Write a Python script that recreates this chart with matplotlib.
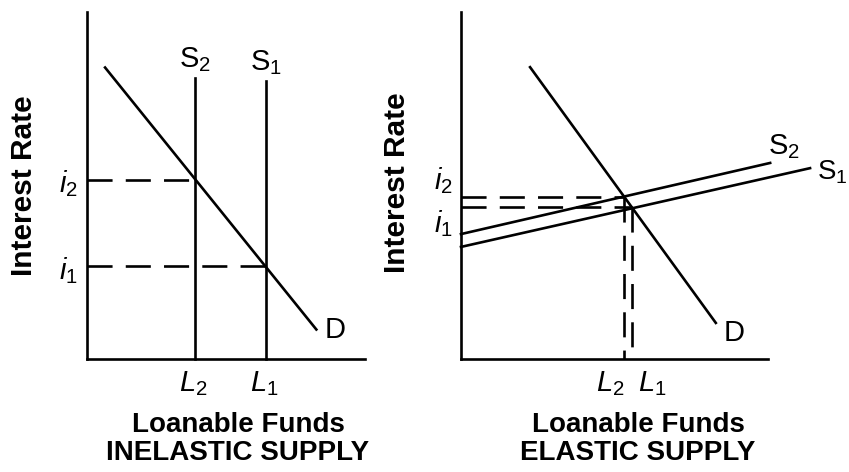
import matplotlib
matplotlib.use("Agg")
import matplotlib.pyplot as plt

plt.rcParams['font.family'] = ['Liberation Sans', 'DejaVu Sans']
plt.rcParams['mathtext.fontset'] = 'custom'
plt.rcParams['mathtext.rm'] = 'Liberation Sans'
plt.rcParams['mathtext.it'] = 'Liberation Sans:italic'

# inelastic supply panel (axes units 0..100)
inel_L = [39.0, 64.5]          # L2, L1 (vertical supply curves)
inel_S_top = [81.0, 80.0]      # top of S2, S1
inel_i = [51.6, 26.7]          # i2, i1
inel_D_x = [6.5, 82.5]
inel_D_y = [84.0, 8.5]

# elastic supply panel
el_D_x = [22.5, 83.0]
el_D_y = [84.1, 10.4]
el_S2_x = [0.0, 100.7]
el_S2_y = [36.0, 56.5]
el_S1_x = [0.0, 113.7]
el_S1_y = [32.3, 55.0]
el_L = [53.1, 55.7]            # L2, L1
el_i = [46.7, 43.8]            # i2, i1

W, H = 849, 472
fig = plt.figure(figsize=(W / 100, H / 100), dpi=100)
ax1 = fig.add_axes([87 / W, (H - 359) / H, 278 / W, 347 / H])
ax2 = fig.add_axes([461 / W, (H - 359) / H, 307 / W, 347 / H])

lw = 1.9
dash = (9.5, 5)
lab = 21

for ax in (ax1, ax2):
    ax.set_xlim(0, 100)
    ax.set_ylim(0, 100)
    for s in ('top', 'right'):
        ax.spines[s].set_visible(False)
    for s in ('left', 'bottom'):
        ax.spines[s].set_linewidth(lw)
        ax.spines[s].set_color('black')
    ax.set_xticks([])
    ax.set_yticks([])
    ax.patch.set_alpha(0)

# ---- left: inelastic supply
ax = ax1
ax.plot(inel_D_x, inel_D_y, color='black', lw=lw, clip_on=False)
names = ['2', '1']
for k in range(2):
    ax.plot([inel_L[k], inel_L[k]], [0, inel_S_top[k]], color='black', lw=lw, clip_on=False)
    ax.plot([0, inel_L[k]], [inel_i[k], inel_i[k]], color='black', lw=lw, dashes=dash)
    ax.annotate(r'$\mathrm{S}_%s$' % names[k], (inel_L[k], inel_S_top[k]), xytext=(0, 4),
                textcoords='offset pixels', ha='center', va='bottom', fontsize=lab)
    ax.annotate(r'$L_%s$' % names[k], (inel_L[k], 0), xytext=(-2, -10),
                textcoords='offset pixels', ha='center', va='top', fontsize=lab, annotation_clip=False)
    ax.annotate(r'$i_%s$' % names[k], (0, inel_i[k]), xytext=(-9, -4),
                textcoords='offset pixels', ha='right', va='center', fontsize=lab, annotation_clip=False)
ax.annotate('D', (inel_D_x[1], inel_D_y[1]), xytext=(8, 0), textcoords='offset pixels',
            ha='left', va='center', fontsize=lab)
ax.text(-0.227, 0.5, 'Interest Rate', transform=ax.transAxes, rotation=90,
        ha='center', va='center', fontsize=21.5, fontweight='bold')
ax.text(0.543, -0.19, 'Loanable Funds', transform=ax.transAxes,
        ha='center', va='center', fontsize=20, fontweight='bold')
ax.text(0.543, -0.272, 'INELASTIC SUPPLY', transform=ax.transAxes,
        ha='center', va='center', fontsize=20, fontweight='bold')

# ---- right: elastic supply
ax = ax2
ax.plot(el_D_x, el_D_y, color='black', lw=lw, clip_on=False)
ax.plot(el_S2_x, el_S2_y, color='black', lw=lw, clip_on=False)
ax.plot(el_S1_x, el_S1_y, color='black', lw=lw, clip_on=False)
for k in range(2):
    ax.plot([0, el_L[k]], [el_i[k], el_i[k]], color='black', lw=lw, dashes=dash)
    ax.plot([el_L[k], el_L[k]], [el_i[k], 0], color='black', lw=lw, dashes=dash)
ax.annotate(r'$L_2$', (el_L[0], 0), xytext=(0, -10), textcoords='offset pixels',
            ha='right', va='top', fontsize=lab, annotation_clip=False)
ax.annotate(r'$L_1$', (el_L[1], 0), xytext=(6, -10), textcoords='offset pixels',
            ha='left', va='top', fontsize=lab, annotation_clip=False)
ax.annotate(r'$i_2$', (0, el_i[0]), xytext=(-8, 1), textcoords='offset pixels',
            ha='right', va='bottom', fontsize=lab, annotation_clip=False)
ax.annotate(r'$i_1$', (0, el_i[1]), xytext=(-8, -1), textcoords='offset pixels',
            ha='right', va='top', fontsize=lab, annotation_clip=False)
ax.annotate(r'$\mathrm{S}_2$', (el_S2_x[1], el_S2_y[1]), xytext=(-2, 2), textcoords='offset pixels',
            ha='left', va='bottom', fontsize=lab, annotation_clip=False)
ax.annotate(r'$\mathrm{S}_1$', (el_S1_x[1], el_S1_y[1]), xytext=(7, -4), textcoords='offset pixels',
            ha='left', va='center', fontsize=20, annotation_clip=False)
ax.annotate('D', (el_D_x[1], el_D_y[1]), xytext=(8, -10), textcoords='offset pixels',
            ha='left', va='center', fontsize=lab)
ax.text(-0.208, 0.507, 'Interest Rate', transform=ax.transAxes, rotation=90,
        ha='center', va='center', fontsize=21.5, fontweight='bold')
ax.text(0.577, -0.19, 'Loanable Funds', transform=ax.transAxes,
        ha='center', va='center', fontsize=20, fontweight='bold')
ax.text(0.577, -0.272, 'ELASTIC SUPPLY', transform=ax.transAxes,
        ha='center', va='center', fontsize=20, fontweight='bold')

fig.savefig('out.png', dpi=100)
